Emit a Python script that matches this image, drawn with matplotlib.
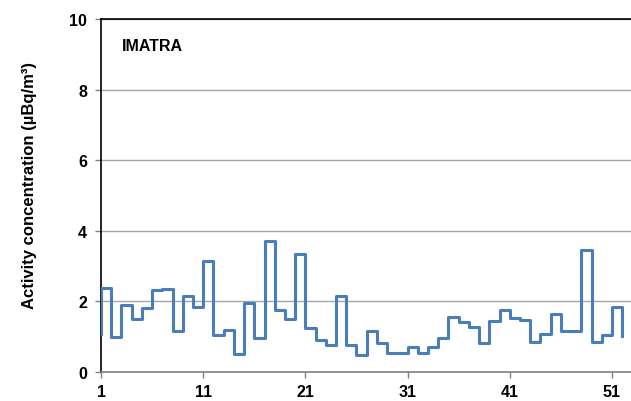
import numpy as np
import matplotlib
matplotlib.use("Agg")
from matplotlib import pyplot as plt

plt.rcParams['font.family'] = ['Liberation Sans', 'DejaVu Sans']

# week boundaries (first point repeats week 1: line starts with a vertical jump)
weeks = [1] + list(range(1, 53))
# activity concentration (µBq/m3), value held until next week
conc = [1.08,
        2.37, 1.00, 1.91, 1.49, 1.80, 2.32, 2.36, 1.15, 2.14, 1.83,
        3.15, 1.06, 1.20, 0.52, 1.96, 0.95, 3.70, 1.77, 1.50, 3.35,
        1.25, 0.91, 0.77, 2.14, 0.77, 0.48, 1.15, 0.81, 0.53, 0.53,
        0.70, 0.54, 0.70, 0.95, 1.57, 1.42, 1.28, 0.82, 1.45, 1.76,
        1.53, 1.48, 0.86, 1.08, 1.63, 1.15, 1.15, 3.45, 0.84, 1.05,
        1.85, 1.03]
station = "IMATRA"
yticks = [0, 2, 4, 6, 8, 10]
xticks = [1, 11, 21, 31, 41, 51]

fig = plt.figure(figsize=(6.31, 4.02), dpi=100)
ax = fig.add_axes([101/631, 1-373/402, 1-101/631, (373-20)/402])

ax.step(weeks, conc, where='post', color='#4A7EBB', lw=2.2, zorder=3)

ax.set_xlim(1, 52.86)
ax.set_ylim(0, 10)
ax.set_yticks(yticks)
ax.set_xticks(xticks)
ax.grid(axis='y', color='#A6A6A6', lw=1.0, zorder=0)

for lab in ax.get_xticklabels() + ax.get_yticklabels():
    lab.set_fontweight('bold')
    lab.set_fontsize(11.5)
ax.tick_params(axis='y', length=4, width=1, color='#808080', pad=6)
ax.tick_params(axis='x', length=4, width=1, color='#808080', pad=5)

ax.spines['right'].set_visible(False)
ax.spines['left'].set_color('black')
ax.spines['left'].set_linewidth(1.2)
ax.spines['top'].set_color('black')
ax.spines['top'].set_linewidth(1.2)
ax.spines['bottom'].set_color('#808080')
ax.spines['bottom'].set_linewidth(1.2)

ax.set_ylabel("Activity concentration (µBq/m³)", fontsize=12, fontweight='bold')
ax.yaxis.set_label_coords(-0.12, 0.53)

ax.text(0.04, 0.924, station, transform=ax.transAxes, fontsize=11.5,
        fontweight='bold', va='center', ha='left')

fig.savefig("out.png", dpi=100)
